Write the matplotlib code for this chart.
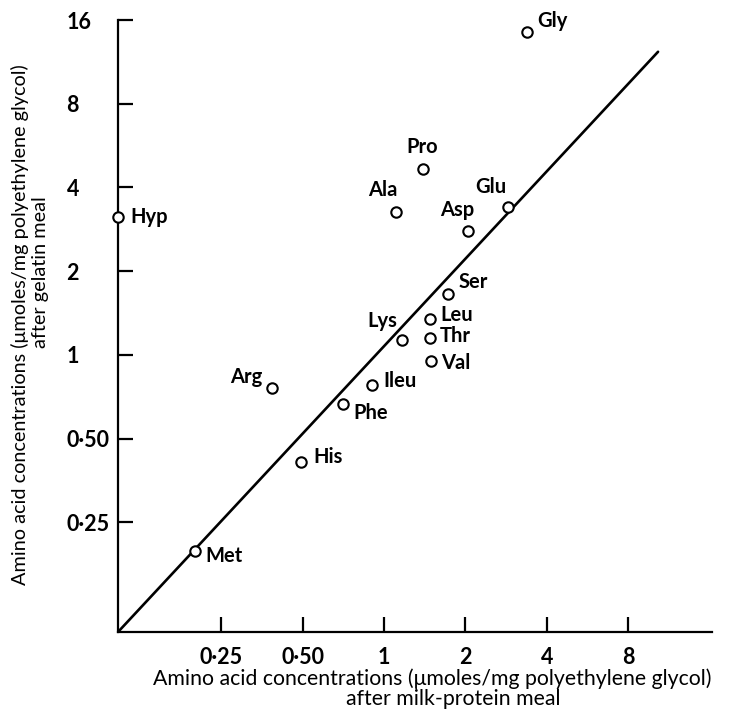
import matplotlib.pyplot as plt
import numpy as np

# amino acid data (umoles/mg polyethylene glycol)
amino_acids = ["Gly", "Pro", "Ala", "Glu", "Asp", "Hyp", "Ser", "Leu", "Thr",
               "Val", "Lys", "Ileu", "Phe", "Arg", "His", "Met"]
milk_meal = [3.38, 1.39, 1.11, 2.88, 2.04, 0.104, 1.73, 1.48, 1.48,
             1.49, 1.17, 0.905, 0.707, 0.386, 0.494, 0.20]
gelatin_meal = [14.5, 4.67, 3.27, 3.39, 2.80, 3.14, 1.65, 1.35, 1.15,
                0.955, 1.13, 0.783, 0.669, 0.764, 0.411, 0.198]

# label offsets (pixels) and alignment for each point
label_dx = [10, 0, -13, -17, -11, 12, 10, 10, 10, 10, -20, 11, 10, -10, 12, 11]
label_dy = [11, 22, 22, 20, 21, 0, 12, 4, 2, -2, 19, 4, -9, 11, 5, -5]
label_ha = ["left", "center", "center", "center", "center", "left", "left", "left",
            "left", "left", "center", "left", "left", "right", "left", "left"]

# fitted line end points
line_x = [0.104, 10.3]
line_y = [0.101, 12.3]

tick_values = [0.25, 0.5, 1, 2, 4, 8, 16]
tick_labels = ["0\u00b725", "0\u00b750", "1", "2", "4", "8", "16"]

plt.rcParams['font.family'] = ['Lato', 'DejaVu Sans']

fig = plt.figure(figsize=(7.32, 7.18), dpi=100)
ax = fig.add_axes([118 / 732, 1 - 632 / 718, (712 - 118) / 732, (632 - 20) / 718])

ax.set_xscale("log", base=2)
ax.set_yscale("log", base=2)
ax.set_xlim(0.104, 16.3)
ax.set_ylim(0.101, 16)

# diagonal line
ax.plot(line_x, line_y, color="black", linewidth=1.9, solid_capstyle="round")

# open circles
ax.plot(milk_meal, gelatin_meal, linestyle="none", marker="o", markersize=7.5,
        markerfacecolor="white", markeredgecolor="black", markeredgewidth=1.5,
        clip_on=False, zorder=3)

for name, x, y, dx, dy, ha in zip(amino_acids, milk_meal, gelatin_meal, label_dx, label_dy, label_ha):
    ax.annotate(name, (x, y), xytext=(dx, dy), textcoords="offset pixels",
                ha=ha, va="center", fontsize=14.5, fontweight="bold")

# axes styling
for side in ["top", "right"]:
    ax.spines[side].set_visible(False)
for side in ["left", "bottom"]:
    ax.spines[side].set_linewidth(1.6)

ax.set_xticks(tick_values[:-1])
ax.set_xticklabels(tick_labels[:-1])
ax.set_yticks(tick_values)
ax.set_yticklabels(tick_labels)
ax.minorticks_off()
ax.tick_params(axis="both", direction="in", length=10.5, width=1.6, labelsize=15.5)
ax.tick_params(axis="x", pad=11)
ax.tick_params(axis="y", pad=37)
for lab in ax.get_yticklabels():
    lab.set_horizontalalignment("left")
for lab in ax.get_xticklabels() + ax.get_yticklabels():
    lab.set_fontweight("bold")

# axis titles
fig.text(432 / 732, 1 - 679 / 718, "Amino acid concentrations (\u03bcmoles/mg polyethylene glycol)",
         ha="center", va="center", fontsize=15.3)
fig.text(453 / 732, 1 - 699 / 718, "after milk-protein meal",
         ha="center", va="center", fontsize=15.3)
fig.text(20 / 732, 1 - 325 / 718, "Amino acid concentrations (\u03bcmoles/mg polyethylene glycol)",
         ha="center", va="center", rotation=90, fontsize=14.3)
fig.text(41 / 732, 1 - 272 / 718, "after gelatin meal",
         ha="center", va="center", rotation=90, fontsize=14.3)

fig.savefig("out.png", dpi=100)
